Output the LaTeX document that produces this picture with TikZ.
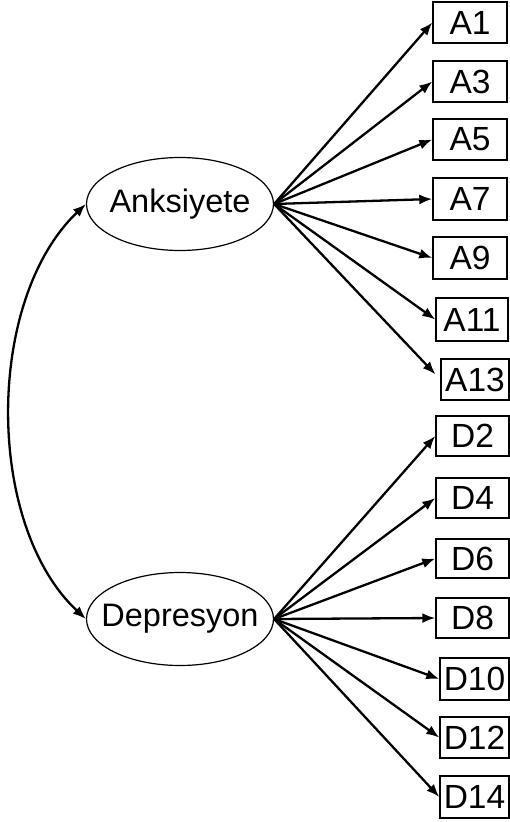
\documentclass[tikz,border=0pt]{standalone}
\usepackage{fontspec}
\setmainfont{Liberation Sans}
\usetikzlibrary{arrows.meta,shapes.geometric}
\begin{document}
\begin{tikzpicture}[x=1pt,y=-1pt,
  every node/.style={font=\fontsize{32.5}{38}\selectfont, inner sep=0pt},
  item/.style={draw, line width=1.4pt, rectangle, font=\fontsize{33.5}{38}\selectfont},
  latent/.style={draw, line width=1.2pt, ellipse, minimum width=187pt, minimum height=93pt},
  path/.style={line width=2.3pt, -{Latex[length=13pt,width=10pt]}},
  cov/.style={line width=2.3pt, {Latex[length=13pt,width=10pt]}-{Latex[length=13pt,width=10pt]}}]
\useasboundingbox (0,0) rectangle (510,822);
\node[latent, label=center:Anksiyete] (ank) at (180,204) {};
\node[latent, label=center:Depresyon] (dep) at (180,619) {};
\node[item, minimum width=74pt, minimum height=41pt] (a1) at (470,22.5) {A1};
\node[item, minimum width=74pt, minimum height=41pt] (a3) at (470,81.5) {A3};
\node[item, minimum width=74pt, minimum height=41pt] (a5) at (470,139.5) {A5};
\node[item, minimum width=74pt, minimum height=42pt] (a7) at (470,199) {A7};
\node[item, minimum width=74pt, minimum height=42pt] (a9) at (470,258) {A9};
\node[item, minimum width=72pt, minimum height=43pt] (a11) at (472,319.5) {A11};
\node[item, minimum width=68pt, minimum height=41pt] (a13) at (475,379.5) {A13};
\node[item, minimum width=73pt, minimum height=40pt] (d2) at (472.5,436) {D2};
\node[item, minimum width=73pt, minimum height=40pt] (d4) at (472.5,498) {D4};
\node[item, minimum width=73pt, minimum height=39pt] (d6) at (472.5,558.5) {D6};
\node[item, minimum width=73pt, minimum height=40pt] (d8) at (472.5,618) {D8};
\node[item, minimum width=69pt, minimum height=42pt] (d10) at (474.5,679) {D10};
\node[item, minimum width=69pt, minimum height=41pt] (d12) at (474.5,737.5) {D12};
\node[item, minimum width=69pt, minimum height=42pt] (d14) at (474.5,797) {D14};
\foreach \t in {a1,a3,a5,a7,a9,a11} \draw[path] (ank.east) -- (\t.west);
\draw[path, shorten >=7pt] (ank.east) -- (a13.west);
\foreach \t in {d2,d4,d6,d8,d10,d12,d14} \draw[path] (dep.east) -- (\t.west);
\draw[cov] (ank.west) .. controls (-15,300) and (-15,525) .. (dep.west);
\end{tikzpicture}
\end{document}
